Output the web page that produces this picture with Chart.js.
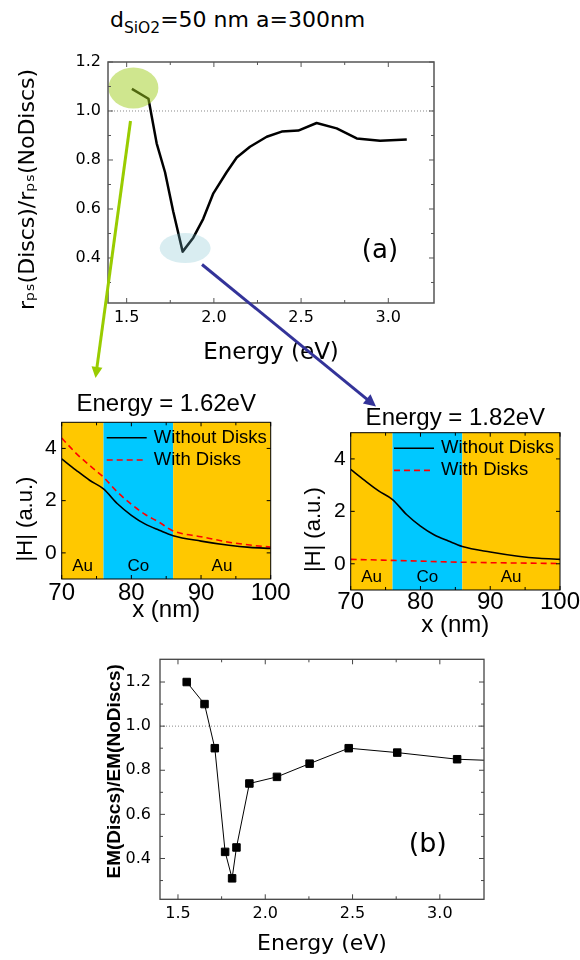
<!DOCTYPE html>
<html><head><meta charset="utf-8">
<script src="https://cdn.jsdelivr.net/npm/chart.js@4.4.1/dist/chart.umd.min.js"></script>
<style>
html,body{margin:0;padding:0;background:#fff;}
body{width:580px;height:960px;position:relative;overflow:hidden;}
canvas{position:absolute;}
#title{position:absolute;left:110px;top:9px;font-family:"DejaVu Sans";font-size:22px;line-height:22px;white-space:nowrap;color:#000;}
#title .s{font-size:15.5px;position:relative;top:6px;}
#arrows{position:absolute;left:0;top:0;z-index:10;pointer-events:none;}
</style></head><body>
<div id="title">d<span class="s">SiO2</span>=50 nm a=300nm</div>
<canvas id="cA" width="450" height="380" style="left:0;top:0;width:450px;height:380px"></canvas>
<canvas id="cB" width="300" height="260" style="left:0;top:380px;width:300px;height:260px"></canvas>
<canvas id="cC" width="280" height="250" style="left:300px;top:390px;width:280px;height:250px"></canvas>
<canvas id="cD" width="420" height="320" style="left:90px;top:640px;width:420px;height:320px"></canvas>
<svg id="arrows" width="580" height="960"></svg>
<script>
// ---------------- data ----------------
// Panel (a): r_ps(Discs)/r_ps(NoDiscs) vs energy
const energyA = [1.53,1.625,1.672,1.72,1.767,1.821,1.882,1.939,1.997,2.073,2.131,2.207,2.303,2.389,2.484,2.589,2.704,2.819,2.953,3.106];
const ratioA  = [1.09,1.05,0.868,0.75,0.59,0.426,0.483,0.56,0.664,0.75,0.81,0.854,0.895,0.916,0.92,0.951,0.929,0.888,0.879,0.884];
// Panel (b): EM(Discs)/EM(NoDiscs) vs energy
const energyB = [1.55,1.652,1.711,1.77,1.81,1.835,1.909,2.067,2.254,2.478,2.756,3.099,3.44];
const ratioB  = [1.2,1.1,0.9,0.43,0.31,0.45,0.74,0.77,0.83,0.9,0.88,0.85,0.84];
// Energy axes ticks
const energyTicks = [1.5,2.0,2.5,3.0];
const energyMinor = [1.75,2.25,2.75];
const ratioTicks  = [0.4,0.6,0.8,1.0,1.2];
const ratioMinor  = [0.3,0.5,0.7,0.9,1.1];
const refLevel = 1.0;
// Field profiles |H| vs x
const xNm      = [70,72,74,76,78,80,82,84,86,90,94,97,100];
const hWithout = [3.6,3.18,2.78,2.45,1.88,1.44,1.1,0.87,0.66,0.45,0.29,0.21,0.17];
const hWith162 = [4.4,3.83,3.35,2.9,2.33,1.86,1.47,1.17,0.84,0.62,0.41,0.3,0.22];
const xNmFlat  = [70,76,86,100];
const hWith182 = [0.17,0.13,0.06,0.01];
const seriesNames = ['Without Disks','With Disks'];
const layerNames = ['Au','Co','Au'];
const layerFrom  = [70,76,86];
const layerTo    = [76,86,100];
const nmTicks  = [70,80,90,100];
const nmMinor  = [75,85,95];
const hTicks   = [0,2,4];

// ---------------- helpers ----------------
Chart.defaults.color = '#000';
Chart.defaults.font.family = 'DejaVu Sans';
const pts = (xs, ys) => xs.map((v,i)=>({x:v, y:ys[i]}));
const setTicks = arr => s => { s.ticks = arr.map(v=>({value:v})); };

function framePlugin(cfg){
  return {
    id:'frame',
    afterDatasetsDraw(chart){
      const {ctx, chartArea:a} = chart; const sx = chart.scales.x, sy = chart.scales.y;
      ctx.save();
      ctx.strokeStyle = cfg.color; ctx.lineWidth = cfg.width;
      ctx.strokeRect(a.left, a.top, a.right-a.left, a.bottom-a.top);
      ctx.lineWidth = cfg.tickWidth || 1;
      const draw = (xs, ys, len) => {
        ctx.beginPath();
        xs.forEach(v=>{ const p = sx.getPixelForValue(v); if(p<a.left-0.5||p>a.right+0.5) return;
          ctx.moveTo(p,a.bottom); ctx.lineTo(p,a.bottom-len); ctx.moveTo(p,a.top); ctx.lineTo(p,a.top+len); });
        ys.forEach(v=>{ const p = sy.getPixelForValue(v); if(p<a.top-0.5||p>a.bottom+0.5) return;
          ctx.moveTo(a.left,p); ctx.lineTo(a.left+len,p); ctx.moveTo(a.right,p); ctx.lineTo(a.right-len,p); });
        ctx.stroke();
      };
      draw(cfg.xMajor, cfg.yMajor, cfg.majorLen);
      draw(cfg.xMinor, cfg.yMinor, cfg.minorLen);
      ctx.restore();
    }
  };
}
function refLinePlugin(){
  return { id:'refline', beforeDatasetsDraw(chart){
    const {ctx, chartArea:a} = chart; const p = chart.scales.y.getPixelForValue(refLevel);
    ctx.save(); ctx.strokeStyle='#888'; ctx.lineWidth=1; ctx.setLineDash([1,2]);
    ctx.beginPath(); ctx.moveTo(a.left,p); ctx.lineTo(a.right,p); ctx.stroke(); ctx.restore();
  }};
}
function panelLabel(text, xv, yv, size){
  return { id:'panelLabel', afterDatasetsDraw(chart){
    const {ctx} = chart; ctx.save(); ctx.font = size+'px "DejaVu Sans"'; ctx.fillStyle='#000';
    ctx.textAlign='center'; ctx.textBaseline='middle';
    ctx.fillText(text, chart.scales.x.getPixelForValue(xv), chart.scales.y.getPixelForValue(yv));
    ctx.restore();
  }};
}
const highlightPlugin = { id:'highlight', afterDatasetsDraw(chart){
  const {ctx} = chart; const sx = chart.scales.x, sy = chart.scales.y;
  let iMin = 0; ratioA.forEach((v,i)=>{ if(v<ratioA[iMin]) iMin=i; });
  ctx.save();
  ctx.fillStyle='rgba(160,205,30,0.5)';
  ctx.beginPath(); ctx.ellipse(sx.getPixelForValue(energyA[0])+1.5, sy.getPixelForValue(ratioA[0])-1, 25, 20.5, 0, 0, Math.PI*2); ctx.fill();
  ctx.fillStyle='rgba(120,190,205,0.28)';
  ctx.beginPath(); ctx.ellipse(sx.getPixelForValue(energyA[iMin])+2.5, sy.getPixelForValue(ratioA[iMin])-3.5, 25.5, 15, 0, 0, Math.PI*2); ctx.fill();
  ctx.restore();
}};
const layersPlugin = { id:'layers', beforeDraw(chart){
  const {ctx, chartArea:a} = chart; const sx = chart.scales.x, sy = chart.scales.y;
  ctx.save();
  layerNames.forEach((n,i)=>{
    const x0 = sx.getPixelForValue(layerFrom[i]), x1 = sx.getPixelForValue(layerTo[i]);
    ctx.fillStyle = n==='Co' ? '#00C8FF' : '#FFC800';
    ctx.fillRect(x0, a.top, x1-x0, a.bottom-a.top);
  });
  ctx.fillStyle='#000'; ctx.font='17px "Liberation Sans"'; ctx.textAlign='center'; ctx.textBaseline='middle';
  layerNames.forEach((n,i)=>{
    ctx.fillText(n, sx.getPixelForValue((layerFrom[i]+layerTo[i])/2), sy.getPixelForValue(-0.5));
  });
  ctx.restore();
}};
function inLegend(dx, dy, gap){
  return { id:'inLegend', afterDatasetsDraw(chart){
    const {ctx, chartArea:a} = chart; ctx.save();
    ctx.font='18.5px "Liberation Sans"'; ctx.textBaseline='middle'; ctx.textAlign='left';
    chart.data.datasets.forEach((ds,i)=>{
      const y = a.top+dy+i*gap, x0 = a.left+dx;
      ctx.strokeStyle=ds.borderColor; ctx.lineWidth=ds.borderWidth; ctx.setLineDash(ds.borderDash||[]);
      ctx.beginPath(); ctx.moveTo(x0,y); ctx.lineTo(x0+40,y); ctx.stroke();
      ctx.setLineDash([]); ctx.fillStyle='#000'; ctx.fillText(ds.label, x0+47, y);
    });
    ctx.restore();
  }};
}
const baseOpts = { responsive:false, animation:false, devicePixelRatio:1, events:[] };

// ---------------- panel (a) ----------------
new Chart(document.getElementById('cA'), {
  type:'line',
  data:{ datasets:[{ data:pts(energyA, ratioA), borderColor:'#000', borderWidth:2.5, pointRadius:0, tension:0, fill:false, borderJoinStyle:'round' }]},
  options:{ ...baseOpts,
    layout:{padding:{left:0, top:62, right:16, bottom:0}},
    plugins:{legend:{display:false}, tooltip:{enabled:false}, title:{display:false}},
    scales:{
      x:{ type:'linear', min:1.393, max:3.262, afterBuildTicks:setTicks(energyTicks), afterFit:s=>{s.height=77;},
          grid:{display:false, drawTicks:false}, border:{display:false},
          ticks:{padding:5, maxRotation:0, font:{size:16}, callback:v=>v.toFixed(1)},
          title:{display:true, text:'Energy (eV)', font:{size:23}, padding:{top:0,bottom:13}} },
      y:{ type:'linear', min:0.2163, max:1.2, afterBuildTicks:setTicks(ratioTicks), afterFit:s=>{s.width=108;},
          grid:{display:false, drawTicks:false}, border:{display:false},
          ticks:{padding:7, font:{size:16}, callback:v=>v.toFixed(1)},
          title:{display:true, text:'r\u209A\u209B(Discs)/r\u209A\u209B(NoDiscs)  ', font:{size:22}, padding:{top:15,bottom:0}} }
    }
  },
  plugins:[refLinePlugin(), highlightPlugin, panelLabel('(a)', 2.952, 0.426, 26),
    framePlugin({color:'#555', width:1.5, xMajor:energyTicks, xMinor:energyMinor, yMajor:ratioTicks, yMinor:ratioMinor, majorLen:5, minorLen:3})]
});

// ---------------- field panels ----------------
function fieldChart(id, title, withX, withY, o){
  return new Chart(document.getElementById(id), {
    type:'line',
    data:{ datasets:[
      { label:seriesNames[0], data:pts(xNm, hWithout), borderColor:'#000', borderWidth:1.6, pointRadius:0, cubicInterpolationMode:'monotone', fill:false },
      { label:seriesNames[1], data:pts(withX, withY), borderColor:'#FF0000', borderWidth:1.6, borderDash:[6,4], pointRadius:0, cubicInterpolationMode:'monotone', fill:false }
    ]},
    options:{ ...baseOpts,
      layout:{padding:{left:0, top:0, right:o.pr, bottom:0}},
      plugins:{legend:{display:false}, tooltip:{enabled:false},
        title:{display:true, text:title, fullSize:false, font:{family:'Liberation Sans', size:24, weight:'normal'}, color:'#000', padding:{top:o.tt, bottom:o.tb}}},
      scales:{
        x:{ type:'linear', min:70, max:100, afterBuildTicks:setTicks(nmTicks), afterFit:s=>{s.height=o.xh;},
            grid:{display:false, drawTicks:false}, border:{display:false},
            ticks:{padding:o.xp, maxRotation:0, font:{family:'Liberation Sans', size:24}},
            title:{display:true, text:'x (nm)', font:{family:'Liberation Sans', size:24}, padding:{top:0,bottom:o.xtb}} },
        y:{ type:'linear', min:-1, max:5, afterBuildTicks:setTicks(hTicks), afterFit:s=>{s.width=o.yw;},
            grid:{display:false, drawTicks:false}, border:{display:false},
            ticks:{padding:5, font:{family:'Liberation Sans', size:21}},
            title:{display:true, text:'|H| (a.u.)      ', font:{family:'Liberation Sans', size:22}, padding:{top:o.ytp,bottom:0}} }
      }
    },
    plugins:[layersPlugin, inLegend(o.lx, 15.5, 22.2),
      framePlugin({color:'#000', width:1, xMajor:nmTicks, xMinor:nmMinor, yMajor:hTicks, yMinor:[], majorLen:4, minorLen:3})]
  });
}
fieldChart('cB', 'Energy = 1.62eV', xNm, hWith162, {pr:29.3, tt:9.6, tb:3.9, xh:61, xp:0, xtb:14.9, yw:61.7, ytp:12.8, lx:45});
fieldChart('cC', 'Energy = 1.82eV', xNmFlat, hWith182, {pr:20, tt:13.6, tb:0.3, xh:50, xp:-2, xtb:0.6, yw:50.7, ytp:1, lx:43.3});

// ---------------- panel (b) ----------------
new Chart(document.getElementById('cD'), {
  type:'line',
  data:{ datasets:[{ data:pts(energyB, ratioB), borderColor:'#000', borderWidth:1, pointStyle:'rect', pointRadius:5.3,
    pointBackgroundColor:'#000', pointBorderColor:'#000', pointBorderWidth:1, tension:0, fill:false }]},
  options:{ ...baseOpts,
    layout:{padding:{left:0, top:19.3, right:26, bottom:0}},
    plugins:{legend:{display:false}, tooltip:{enabled:false}, title:{display:false}},
    scales:{
      x:{ type:'linear', min:1.397, max:3.253, afterBuildTicks:setTicks(energyTicks), afterFit:s=>{s.height=60.7;},
          grid:{display:false, drawTicks:false}, border:{display:false},
          ticks:{padding:5, maxRotation:0, font:{size:16}, callback:v=>v.toFixed(1)},
          title:{display:true, text:'Energy (eV)', font:{size:22}, padding:{top:0,bottom:3}} },
      y:{ type:'linear', min:0.215, max:1.303, afterBuildTicks:setTicks(ratioTicks), afterFit:s=>{s.width=70;},
          grid:{display:false, drawTicks:false}, border:{display:false},
          ticks:{padding:9, font:{size:16}, callback:v=>v.toFixed(1)},
          title:{display:true, text:'   EM(Discs)/EM(NoDiscs)', font:{family:'Liberation Sans', size:19, weight:'bold'}, padding:{top:13.6,bottom:0}} }
    }
  },
  plugins:[refLinePlugin(), panelLabel('(b)', 2.931, 0.46, 27),
    framePlugin({color:'#444', width:1.3, xMajor:energyTicks, xMinor:energyMinor, yMajor:ratioTicks, yMinor:ratioMinor, majorLen:5, minorLen:3})]
});

// ---------------- arrows ----------------
(function(){
  const svg = document.getElementById('arrows'); const NS='http://www.w3.org/2000/svg';
  function arrow(x1,y1,x2,y2,color,w,hl,hw){
    const dx=x2-x1, dy=y2-y1, L=Math.hypot(dx,dy), ux=dx/L, uy=dy/L;
    const bx=x2-ux*hl, by=y2-uy*hl;
    const line=document.createElementNS(NS,'line');
    line.setAttribute('x1',x1); line.setAttribute('y1',y1); line.setAttribute('x2',bx+ux*1); line.setAttribute('y2',by+uy*1);
    line.setAttribute('stroke',color); line.setAttribute('stroke-width',w); svg.appendChild(line);
    const p=document.createElementNS(NS,'polygon');
    p.setAttribute('points',`${x2},${y2} ${bx-uy*hw},${by+ux*hw} ${bx+uy*hw},${by-ux*hw}`);
    p.setAttribute('fill',color); svg.appendChild(p);
  }
  arrow(130.5,121,95.5,378,'#99CC00',3,11,5.5);
  arrow(202,264.5,376,406.5,'#333399',3,12,6);
})();
</script>
</body></html>
